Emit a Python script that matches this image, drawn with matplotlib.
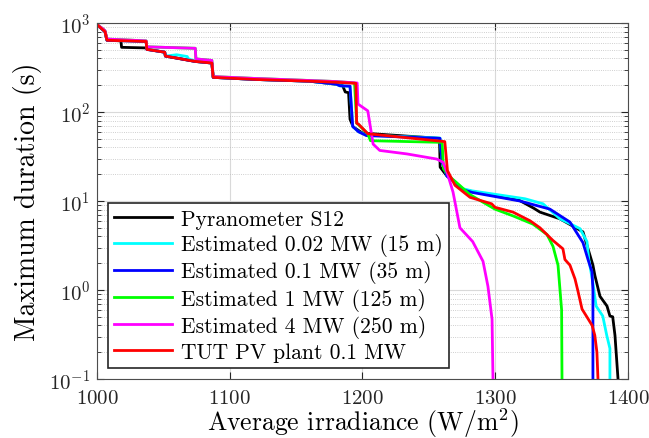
import numpy as np
import matplotlib
matplotlib.use("Agg")
from matplotlib import pyplot as plt
from matplotlib.ticker import LogLocator, NullFormatter

plt.rcParams['font.family'] = 'serif'
plt.rcParams['font.serif'] = ['cmr10']
plt.rcParams['mathtext.fontset'] = 'cm'
plt.rcParams['axes.formatter.use_mathtext'] = True

# shared staircase at low irradiance (lower group)
head_x = [1000.3, 1004, 1006, 1007.5, 1037, 1037.5, 1051, 1051.5, 1074, 1086.5, 1087.5, 1120, 1160, 1180]
head_y = [950, 850, 800, 640, 620, 505, 470, 425, 370, 355, 245, 232, 222, 216]

# upper group (1 MW / 4 MW) stays higher between 1037 and 1074
head_hi_x = [1000.3, 1004, 1006, 1007.5, 1037, 1037.5, 1074, 1074.5, 1086.5, 1087.5, 1120, 1160, 1180]
head_hi_y = [950, 870, 820, 660, 630, 540, 520, 395, 380, 250, 238, 226, 220]

black_x = [1007.5, 1018, 1018.5, 1037, 1040, 1051, 1051.5, 1074, 1086.5, 1087.5, 1120, 1160, 1180,
           1185, 1187, 1189.5, 1190.6, 1193, 1200, 1258, 1258.5, 1263.7, 1269.7, 1275, 1282.5, 1318,
           1329, 1333.7, 1348.8, 1366.1, 1373.6, 1375.1, 1378.9, 1384.2, 1386.4, 1388.5, 1390.2, 1392.5]
black_y = [640, 630, 533, 525, 500, 470, 425, 370, 355, 245, 232, 222, 205,
           198, 168, 165, 83, 68, 58, 50.6, 24, 19, 16.3, 13.5, 12.8, 10.2,
           8.3, 7.5, 6.3, 4.5, 1.9, 1.45, 0.85, 0.66, 0.51, 0.5, 0.31, 0.1]

cyan_x = [1060, 1068, 1068.5, 1074, 1086.5, 1087.5, 1120, 1160, 1180, 1183, 1190.6, 1192.6, 1197, 1203,
          1258.4, 1260, 1263.7, 1269.7, 1275, 1282.5, 1322.4, 1336, 1348.8, 1363.8, 1369.1, 1370.5,
          1373.6, 1376, 1381, 1384, 1386.4, 1386.4]
cyan_y = [440, 420, 400, 370, 355, 245, 232, 222, 206, 197, 195, 69, 60, 55,
          51, 27, 19, 16.5, 13.8, 13, 10.6, 9.3, 6.3, 4.9, 3.5, 2.2,
          1.2, 0.66, 0.51, 0.31, 0.22, 0.1]

blue_x = [1180, 1183, 1190.6, 1192.6, 1197, 1203, 1258.4, 1260, 1263.7, 1269.7, 1275, 1282.5,
          1318.6, 1341.2, 1356.3, 1366.1, 1369.9, 1372.9, 1373.6, 1373.6]
blue_y = [206, 197, 195, 69, 60, 54.3, 50.6, 27, 19, 16.3, 13.5, 12.5,
          10.0, 8.1, 5.8, 3.4, 2.2, 1.6, 1.0, 0.1]

green_x = [1180, 1194, 1195.6, 1197, 1204, 1206, 1260, 1261, 1266, 1273.4, 1281, 1286.3, 1299.8,
           1313.4, 1328.4, 1339, 1343.5, 1347.3, 1348.8, 1350, 1350.3]
green_y = [220, 212, 75, 72, 57, 47.6, 45.6, 23, 18.6, 14.9, 11.8, 10.6, 8.1,
           6.8, 5.5, 4.2, 3.1, 1.9, 1.0, 0.6, 0.1]

magenta_x = [1180, 1196, 1196.6, 1204, 1208, 1213, 1233.5, 1256, 1260.6, 1263.7, 1268.2, 1273.4, 1283,
             1290.8, 1294.5, 1297.6, 1298.3]
magenta_y = [220, 212, 123, 103, 43.6, 37, 33.8, 29.6, 27.3, 21, 12.6, 5.0, 3.5,
             2.1, 1.1, 0.47, 0.1]

red_x = [1180, 1195, 1195.6, 1197, 1204, 1262, 1264, 1269.7, 1281, 1297.3, 1299.8, 1313.4, 1326.2,
         1333.7, 1343.5, 1351, 1352.5, 1356.3, 1360.1, 1362.4, 1365.4, 1369, 1373, 1375, 1376.6, 1377.4]
red_y = [216, 210, 75, 73, 57, 46.5, 22, 15, 11.0, 9.3, 8.5, 7.5, 6.0,
         5.0, 3.6, 2.9, 2.2, 1.9, 1.33, 0.96, 0.61, 0.50, 0.40, 0.31, 0.20, 0.1]

labels = ['Pyranometer S12', 'Estimated 0.02 MW (15 m)', 'Estimated 0.1 MW (35 m)',
          'Estimated 1 MW (125 m)', 'Estimated 4 MW (250 m)', 'TUT PV plant 0.1 MW']
colors = ['k', (0, 1, 1), (0, 0, 1), (0, 1, 0), (1, 0, 1), (1, 0, 0)]


def with_head(hx, hy, x, y):
    # prepend the shared staircase up to where the curve's own points begin
    keep = [i for i in range(len(hx)) if hx[i] < x[0]]
    return [hx[i] for i in keep] + list(x), [hy[i] for i in keep] + list(y)


curves = [
    with_head(head_x, head_y, black_x, black_y),
    with_head(head_x, head_y, cyan_x, cyan_y),
    with_head(head_x, head_y, blue_x, blue_y),
    with_head(head_hi_x, head_hi_y, green_x, green_y),
    with_head(head_hi_x, head_hi_y, magenta_x, magenta_y),
    with_head(head_x, head_y, red_x, red_y),
]

fig = plt.figure(figsize=(6.49, 4.39), dpi=100)
ax = fig.add_axes([0.1495, 0.1344, 0.8181, 0.8109])

for (x, y), c, lab in zip(curves, colors, labels):
    ax.plot(x, y, color=c, lw=2, label=lab)

ax.set_yscale('log')
ax.set_xlim(1000, 1400)
ax.set_ylim(0.1, 1000)
ax.set_xticks([1000, 1100, 1200, 1300, 1400])
ax.yaxis.set_minor_locator(LogLocator(base=10, subs=np.arange(2, 10)))
ax.yaxis.set_minor_formatter(NullFormatter())

ax.grid(True, which='major', color='0.85', lw=0.8)
ax.grid(True, which='minor', axis='y', color='0.75', lw=0.6, ls=':')
ax.tick_params(which='both', direction='in', top=True, right=True, labelsize=15, colors='0.15')
ax.tick_params(which='major', length=5)
ax.tick_params(which='minor', length=3)
ax.tick_params(axis='x', pad=7)
ax.tick_params(axis='y', pad=5)
for s in ax.spines.values():
    s.set_color('0.3')

ax.set_xlabel('Average irradiance (W/m$^2$)', fontsize=18.5, labelpad=-1)
ax.set_ylabel('Maximum duration (s)', fontsize=20, labelpad=5)

leg = ax.legend(loc='lower left', fontsize=15.5, frameon=True, fancybox=False,
                edgecolor='0.15', framealpha=1, handlelength=2.7, handletextpad=0.4,
                labelspacing=0.2, borderaxespad=0.5, borderpad=0.3)
leg.get_frame().set_linewidth(1.2)

fig.savefig('out.png', dpi=100)
